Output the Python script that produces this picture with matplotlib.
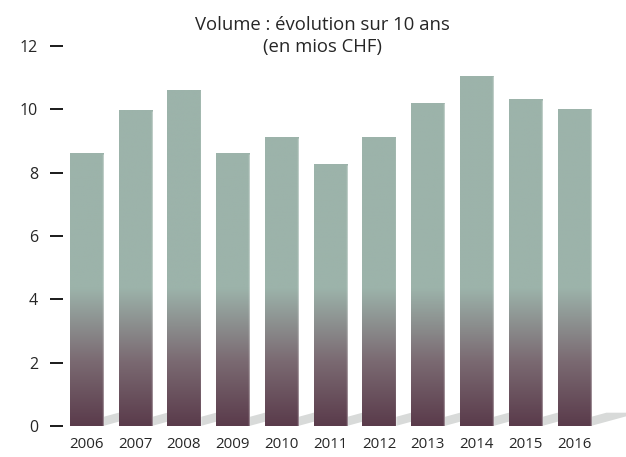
import numpy as np
import matplotlib
matplotlib.use("Agg")
import matplotlib.pyplot as plt
from matplotlib.colors import LinearSegmentedColormap
from matplotlib.patches import Polygon

years = ["2006", "2007", "2008", "2009", "2010", "2011", "2012", "2013", "2014", "2015", "2016"]
volumes = [8.6, 9.95, 10.6, 8.6, 9.1, 8.25, 9.1, 10.2, 11.05, 10.3, 10.0]
yticks = [0, 2, 4, 6, 8, 10, 12]
title = "Volume : évolution sur 10 ans\n(en mios CHF)"

plt.rcParams['font.family'] = ['Open Sans', 'DejaVu Sans']

fig = plt.figure(figsize=(6.26, 4.57), dpi=100)
ax = fig.add_axes([63/626, 1 - 426/457, (600 - 63)/626, (426 - 46)/457])

top_col = "#9cb3aa"
mid_col = "#7a6971"
bot_col = "#5a3b4b"
grad_top = 4.35
cmap = LinearSegmentedColormap.from_list("g", [(0, bot_col), (2/grad_top, mid_col), (1, top_col)])

width = 0.68
x = np.arange(len(years))
bars = ax.bar(x, volumes, width=width, color="none", edgecolor="none", zorder=3)

shadow_dx = 1.0
shadow_h = 0.42
for rect in bars:
    x0 = rect.get_x()
    x1 = x0 + rect.get_width()
    h = rect.get_height()
    poly = Polygon([(x0, 0), (x1, 0), (x1 + shadow_dx, shadow_h), (x0 + shadow_dx, shadow_h)],
                   closed=True, facecolor="#d8dad9", edgecolor="none", zorder=1, clip_on=False)
    ax.add_patch(poly)
    yy = np.linspace(0, h, 400)
    vals = np.clip(yy / grad_top, 0, 1)[:, None]
    ax.imshow(vals, extent=[x0, x1, 0, h], origin="lower", cmap=cmap, vmin=0, vmax=1,
              aspect="auto", zorder=3, interpolation="bilinear")
    ax.plot([x1, x1], [0, h], color="white", alpha=0.35, lw=1.0, zorder=4, solid_capstyle="butt")

ax.set_xlim(-0.48, 10.53)
ax.set_ylim(0, 12)
ax.set_yticks(yticks)
ax.set_yticklabels([str(t) for t in yticks])
ax.set_xticks(x)
ax.set_xticklabels(years)

for s in ax.spines.values():
    s.set_visible(False)

ax.tick_params(axis="y", direction="out", length=9.5, width=1.4, color="#1a1a1a",
               pad=8.5, labelsize=11.5, labelcolor="#262626")
ax.tick_params(axis="x", length=0, pad=8, labelsize=10.8, labelcolor="#262626")

fig.text(322/626, 1 - 36/457, title, ha="center", va="center", fontsize=13.3,
         color="#262626", linespacing=1.3)

fig.savefig("out.png", dpi=100)
